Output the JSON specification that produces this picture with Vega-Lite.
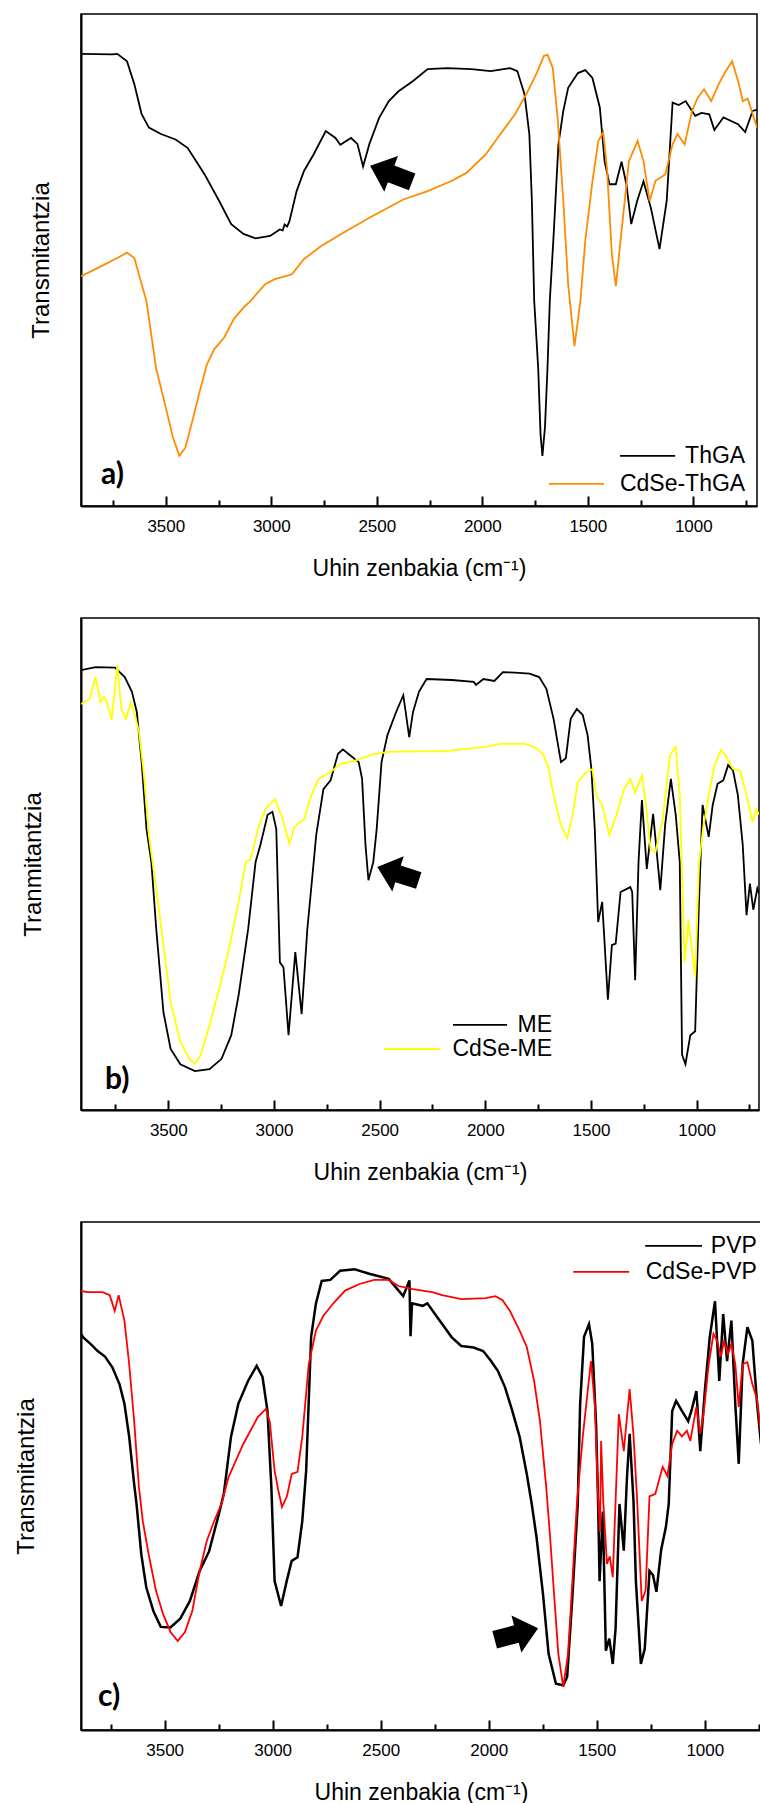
{
"$schema": "https://vega.github.io/schema/vega-lite/v6.json",
"background": "white",
"padding": {"top": 13, "left": 13, "right": 0, "bottom": 0},
"columns": 1,
"align": "each",
"spacing": 36,
"resolve": {"scale": {"color": "independent"}},
"config": {
  "font": "Liberation Sans",
  "view": {"stroke": "#000", "strokeWidth": 1.5},
  "axis": {"grid": false, "domainColor": "#000", "domainWidth": 2, "tickColor": "#000", "tickWidth": 2, "labelColor": "#000", "titleColor": "#000", "titleFontWeight": "normal", "labelFont": "Liberation Sans", "titleFont": "Liberation Sans"}
},
"datasets": {
"a": [
{"series":"ThGA","wn":3902,"t":91.9},{"series":"ThGA","wn":3753,"t":91.8},{"series":"ThGA","wn":3730,"t":91.9},{"series":"ThGA","wn":3684,"t":90.4},{"series":"ThGA","wn":3649,"t":85.7},{"series":"ThGA","wn":3615,"t":79.7},{"series":"ThGA","wn":3580,"t":76.9},{"series":"ThGA","wn":3523,"t":75.6},{"series":"ThGA","wn":3454,"t":74.5},{"series":"ThGA","wn":3397,"t":72.8},{"series":"ThGA","wn":3316,"t":67.4},{"series":"ThGA","wn":3247,"t":62.0},{"series":"ThGA","wn":3190,"t":57.3},{"series":"ThGA","wn":3132,"t":55.3},{"series":"ThGA","wn":3075,"t":54.4},{"series":"ThGA","wn":3006,"t":54.9},{"series":"ThGA","wn":2960,"t":56.2},{"series":"ThGA","wn":2946,"t":56.0},{"series":"ThGA","wn":2937,"t":57.2},{"series":"ThGA","wn":2925,"t":56.8},{"series":"ThGA","wn":2914,"t":57.9},{"series":"ThGA","wn":2880,"t":64.0},{"series":"ThGA","wn":2845,"t":68.1},{"series":"ThGA","wn":2799,"t":71.5},{"series":"ThGA","wn":2742,"t":76.2},{"series":"ThGA","wn":2696,"t":74.8},{"series":"ThGA","wn":2673,"t":73.4},{"series":"ThGA","wn":2622,"t":74.8},{"series":"ThGA","wn":2592,"t":73.6},{"series":"ThGA","wn":2565,"t":69.0},{"series":"ThGA","wn":2535,"t":73.6},{"series":"ThGA","wn":2489,"t":78.9},{"series":"ThGA","wn":2443,"t":82.3},{"series":"ThGA","wn":2397,"t":84.3},{"series":"ThGA","wn":2328,"t":86.4},{"series":"ThGA","wn":2259,"t":88.8},{"series":"ThGA","wn":2167,"t":89.0},{"series":"ThGA","wn":2052,"t":88.8},{"series":"ThGA","wn":1960,"t":88.4},{"series":"ThGA","wn":1868,"t":89.0},{"series":"ThGA","wn":1834,"t":88.4},{"series":"ThGA","wn":1800,"t":83.7},{"series":"ThGA","wn":1777,"t":75.6},{"series":"ThGA","wn":1765,"t":62},{"series":"ThGA","wn":1754,"t":41.7},{"series":"ThGA","wn":1735,"t":28},{"series":"ThGA","wn":1724,"t":14.6},{"series":"ThGA","wn":1715,"t":10.2},{"series":"ThGA","wn":1703,"t":16},{"series":"ThGA","wn":1691,"t":28},{"series":"ThGA","wn":1680,"t":41.7},{"series":"ThGA","wn":1662,"t":55},{"series":"ThGA","wn":1639,"t":73.6},{"series":"ThGA","wn":1616,"t":80.3},{"series":"ThGA","wn":1593,"t":85},{"series":"ThGA","wn":1547,"t":88},{"series":"ThGA","wn":1512,"t":88.6},{"series":"ThGA","wn":1478,"t":87},{"series":"ThGA","wn":1443,"t":81},{"series":"ThGA","wn":1420,"t":70},{"series":"ThGA","wn":1397,"t":65.4},{"series":"ThGA","wn":1367,"t":65.4},{"series":"ThGA","wn":1340,"t":70},{"series":"ThGA","wn":1317,"t":65.4},{"series":"ThGA","wn":1294,"t":57.3},{"series":"ThGA","wn":1266,"t":62},{"series":"ThGA","wn":1236,"t":66},{"series":"ThGA","wn":1201,"t":60.6},{"series":"ThGA","wn":1160,"t":52.2},{"series":"ThGA","wn":1126,"t":62},{"series":"ThGA","wn":1098,"t":82},{"series":"ThGA","wn":1069,"t":81.5},{"series":"ThGA","wn":1036,"t":82.3},{"series":"ThGA","wn":1018,"t":81.1},{"series":"ThGA","wn":991,"t":79.3},{"series":"ThGA","wn":961,"t":79.9},{"series":"ThGA","wn":924,"t":79.6},{"series":"ThGA","wn":900,"t":76.4},{"series":"ThGA","wn":857,"t":79},{"series":"ThGA","wn":823,"t":78.3},{"series":"ThGA","wn":788,"t":77.6},{"series":"ThGA","wn":754,"t":76},{"series":"ThGA","wn":719,"t":80.3},{"series":"ThGA","wn":698,"t":80.5},
{"series":"CdSe-ThGA","wn":3902,"t":46.7},{"series":"CdSe-ThGA","wn":3822,"t":48.4},{"series":"CdSe-ThGA","wn":3730,"t":50.4},{"series":"CdSe-ThGA","wn":3684,"t":51.5},{"series":"CdSe-ThGA","wn":3649,"t":50.4},{"series":"CdSe-ThGA","wn":3615,"t":45.1},{"series":"CdSe-ThGA","wn":3592,"t":41.7},{"series":"CdSe-ThGA","wn":3546,"t":28},{"series":"CdSe-ThGA","wn":3500,"t":20},{"series":"CdSe-ThGA","wn":3466,"t":13.9},{"series":"CdSe-ThGA","wn":3436,"t":10.2},{"series":"CdSe-ThGA","wn":3408,"t":11.8},{"series":"CdSe-ThGA","wn":3374,"t":17.3},{"series":"CdSe-ThGA","wn":3339,"t":23.4},{"series":"CdSe-ThGA","wn":3305,"t":28.8},{"series":"CdSe-ThGA","wn":3270,"t":31.9},{"series":"CdSe-ThGA","wn":3224,"t":34.2},{"series":"CdSe-ThGA","wn":3178,"t":38},{"series":"CdSe-ThGA","wn":3132,"t":40.3},{"series":"CdSe-ThGA","wn":3098,"t":41.7},{"series":"CdSe-ThGA","wn":3086,"t":42.3},{"series":"CdSe-ThGA","wn":3029,"t":45.1},{"series":"CdSe-ThGA","wn":2983,"t":46.1},{"series":"CdSe-ThGA","wn":2902,"t":47.1},{"series":"CdSe-ThGA","wn":2845,"t":50.2},{"series":"CdSe-ThGA","wn":2765,"t":52.8},{"series":"CdSe-ThGA","wn":2673,"t":55.2},{"series":"CdSe-ThGA","wn":2535,"t":58.6},{"series":"CdSe-ThGA","wn":2374,"t":62.3},{"series":"CdSe-ThGA","wn":2259,"t":64},{"series":"CdSe-ThGA","wn":2144,"t":66.1},{"series":"CdSe-ThGA","wn":2075,"t":67.7},{"series":"CdSe-ThGA","wn":1983,"t":71.5},{"series":"CdSe-ThGA","wn":1914,"t":75.6},{"series":"CdSe-ThGA","wn":1845,"t":79.6},{"series":"CdSe-ThGA","wn":1788,"t":84},{"series":"CdSe-ThGA","wn":1742,"t":88},{"series":"CdSe-ThGA","wn":1708,"t":91.5},{"series":"CdSe-ThGA","wn":1690,"t":91.7},{"series":"CdSe-ThGA","wn":1666,"t":89},{"series":"CdSe-ThGA","wn":1643,"t":78.9},{"series":"CdSe-ThGA","wn":1616,"t":62},{"series":"CdSe-ThGA","wn":1593,"t":45},{"series":"CdSe-ThGA","wn":1563,"t":32.5},{"series":"CdSe-ThGA","wn":1535,"t":41.7},{"series":"CdSe-ThGA","wn":1512,"t":53.9},{"series":"CdSe-ThGA","wn":1478,"t":66},{"series":"CdSe-ThGA","wn":1450,"t":74.2},{"series":"CdSe-ThGA","wn":1427,"t":76},{"series":"CdSe-ThGA","wn":1409,"t":68.7},{"series":"CdSe-ThGA","wn":1386,"t":51.2},{"series":"CdSe-ThGA","wn":1367,"t":44.7},{"series":"CdSe-ThGA","wn":1345,"t":53.9},{"series":"CdSe-ThGA","wn":1305,"t":70.1},{"series":"CdSe-ThGA","wn":1264,"t":74.2},{"series":"CdSe-ThGA","wn":1236,"t":70.1},{"series":"CdSe-ThGA","wn":1207,"t":62},{"series":"CdSe-ThGA","wn":1179,"t":66.1},{"series":"CdSe-ThGA","wn":1133,"t":67.4},{"series":"CdSe-ThGA","wn":1098,"t":73.5},{"series":"CdSe-ThGA","wn":1075,"t":75.6},{"series":"CdSe-ThGA","wn":1041,"t":73.5},{"series":"CdSe-ThGA","wn":1006,"t":80.3},{"series":"CdSe-ThGA","wn":979,"t":83},{"series":"CdSe-ThGA","wn":949,"t":84.7},{"series":"CdSe-ThGA","wn":915,"t":82.3},{"series":"CdSe-ThGA","wn":880,"t":85.7},{"series":"CdSe-ThGA","wn":846,"t":88.4},{"series":"CdSe-ThGA","wn":816,"t":90.4},{"series":"CdSe-ThGA","wn":788,"t":86.4},{"series":"CdSe-ThGA","wn":765,"t":82.3},{"series":"CdSe-ThGA","wn":742,"t":82.8},{"series":"CdSe-ThGA","wn":698,"t":76.9}
],
"b": [
{"series":"ME","wn":3913,"t":89.4},{"series":"ME","wn":3844,"t":90},{"series":"ME","wn":3752,"t":89.9},{"series":"ME","wn":3706,"t":88},{"series":"ME","wn":3672,"t":85},{"series":"ME","wn":3649,"t":80.9},{"series":"ME","wn":3626,"t":70.7},{"series":"ME","wn":3603,"t":57.1},{"series":"ME","wn":3580,"t":50.4},{"series":"ME","wn":3557,"t":36.8},{"series":"ME","wn":3523,"t":19.9},{"series":"ME","wn":3489,"t":12.4},{"series":"ME","wn":3443,"t":9.3},{"series":"ME","wn":3374,"t":7.9},{"series":"ME","wn":3305,"t":8.3},{"series":"ME","wn":3248,"t":10.4},{"series":"ME","wn":3202,"t":15.2},{"series":"ME","wn":3167,"t":23.4},{"series":"ME","wn":3122,"t":36.8},{"series":"ME","wn":3087,"t":50.4},{"series":"ME","wn":3064,"t":53.9},{"series":"ME","wn":3030,"t":60},{"series":"ME","wn":3007,"t":60.6},{"series":"ME","wn":2989,"t":57.1},{"series":"ME","wn":2972,"t":30},{"series":"ME","wn":2955,"t":29},{"series":"ME","wn":2931,"t":15.2},{"series":"ME","wn":2899,"t":32.1},{"series":"ME","wn":2869,"t":19.5},{"series":"ME","wn":2842,"t":36.8},{"series":"ME","wn":2812,"t":50.4},{"series":"ME","wn":2800,"t":55.9},{"series":"ME","wn":2766,"t":65.2},{"series":"ME","wn":2732,"t":67},{"series":"ME","wn":2697,"t":72.4},{"series":"ME","wn":2674,"t":73.3},{"series":"ME","wn":2640,"t":72.1},{"series":"ME","wn":2599,"t":70.7},{"series":"ME","wn":2583,"t":67.3},{"series":"ME","wn":2567,"t":53.9},{"series":"ME","wn":2553,"t":46.7},{"series":"ME","wn":2530,"t":50.4},{"series":"ME","wn":2514,"t":57.1},{"series":"ME","wn":2491,"t":70.7},{"series":"ME","wn":2463,"t":76.2},{"series":"ME","wn":2422,"t":80.9},{"series":"ME","wn":2388,"t":84.3},{"series":"ME","wn":2360,"t":75.8},{"series":"ME","wn":2342,"t":80.9},{"series":"ME","wn":2314,"t":85},{"series":"ME","wn":2278,"t":87.6},{"series":"ME","wn":2158,"t":87.4},{"series":"ME","wn":2055,"t":87},{"series":"ME","wn":2044,"t":86.4},{"series":"ME","wn":2009,"t":87.6},{"series":"ME","wn":1957,"t":87.2},{"series":"ME","wn":1917,"t":89},{"series":"ME","wn":1860,"t":88.9},{"series":"ME","wn":1791,"t":88.7},{"series":"ME","wn":1745,"t":88},{"series":"ME","wn":1711,"t":85.6},{"series":"ME","wn":1677,"t":79.5},{"series":"ME","wn":1642,"t":70.7},{"series":"ME","wn":1619,"t":71.5},{"series":"ME","wn":1596,"t":79.5},{"series":"ME","wn":1567,"t":81.5},{"series":"ME","wn":1539,"t":80.3},{"series":"ME","wn":1516,"t":76.2},{"series":"ME","wn":1498,"t":69.3},{"series":"ME","wn":1482,"t":57.1},{"series":"ME","wn":1466,"t":38.2},{"series":"ME","wn":1447,"t":42.3},{"series":"ME","wn":1420,"t":22.4},{"series":"ME","wn":1401,"t":33.5},{"series":"ME","wn":1383,"t":33.8},{"series":"ME","wn":1360,"t":44.3},{"series":"ME","wn":1314,"t":45.3},{"series":"ME","wn":1305,"t":44.3},{"series":"ME","wn":1291,"t":26.4},{"series":"ME","wn":1275,"t":50.4},{"series":"ME","wn":1259,"t":63},{"series":"ME","wn":1236,"t":49},{"series":"ME","wn":1206,"t":60.2},{"series":"ME","wn":1172,"t":44.7},{"series":"ME","wn":1149,"t":58},{"series":"ME","wn":1122,"t":67.3},{"series":"ME","wn":1099,"t":60},{"series":"ME","wn":1080,"t":50.4},{"series":"ME","wn":1069,"t":11.2},{"series":"ME","wn":1053,"t":9.3},{"series":"ME","wn":1030,"t":15.2},{"series":"ME","wn":1007,"t":16},{"series":"ME","wn":989,"t":42.3},{"series":"ME","wn":972,"t":62},{"series":"ME","wn":943,"t":55.5},{"series":"ME","wn":924,"t":62},{"series":"ME","wn":901,"t":66.3},{"series":"ME","wn":874,"t":67},{"series":"ME","wn":851,"t":70.1},{"series":"ME","wn":828,"t":69},{"series":"ME","wn":805,"t":64},{"series":"ME","wn":782,"t":53.9},{"series":"ME","wn":764,"t":39.6},{"series":"ME","wn":748,"t":46},{"series":"ME","wn":732,"t":40.7},{"series":"ME","wn":713,"t":45},{"series":"ME","wn":705,"t":44},
{"series":"CdSe-ME","wn":3913,"t":82.5},{"series":"CdSe-ME","wn":3874,"t":83.5},{"series":"CdSe-ME","wn":3844,"t":88},{"series":"CdSe-ME","wn":3821,"t":82.9},{"series":"CdSe-ME","wn":3805,"t":84},{"series":"CdSe-ME","wn":3791,"t":82.9},{"series":"CdSe-ME","wn":3768,"t":79.3},{"series":"CdSe-ME","wn":3741,"t":90.4},{"series":"CdSe-ME","wn":3722,"t":81.5},{"series":"CdSe-ME","wn":3700,"t":79.5},{"series":"CdSe-ME","wn":3677,"t":82.9},{"series":"CdSe-ME","wn":3654,"t":79.5},{"series":"CdSe-ME","wn":3638,"t":76.8},{"series":"CdSe-ME","wn":3615,"t":68},{"series":"CdSe-ME","wn":3592,"t":55.9},{"series":"CdSe-ME","wn":3557,"t":45},{"series":"CdSe-ME","wn":3523,"t":33.5},{"series":"CdSe-ME","wn":3489,"t":22},{"series":"CdSe-ME","wn":3443,"t":13.8},{"series":"CdSe-ME","wn":3397,"t":10.2},{"series":"CdSe-ME","wn":3374,"t":9.4},{"series":"CdSe-ME","wn":3346,"t":11.2},{"series":"CdSe-ME","wn":3305,"t":17.3},{"series":"CdSe-ME","wn":3259,"t":24.6},{"series":"CdSe-ME","wn":3213,"t":32.7},{"series":"CdSe-ME","wn":3167,"t":42.3},{"series":"CdSe-ME","wn":3133,"t":50.4},{"series":"CdSe-ME","wn":3110,"t":51},{"series":"CdSe-ME","wn":3076,"t":57.1},{"series":"CdSe-ME","wn":3041,"t":61.2},{"series":"CdSe-ME","wn":2995,"t":63.2},{"series":"CdSe-ME","wn":2961,"t":59.5},{"series":"CdSe-ME","wn":2927,"t":54.1},{"series":"CdSe-ME","wn":2904,"t":57.5},{"series":"CdSe-ME","wn":2881,"t":58.5},{"series":"CdSe-ME","wn":2858,"t":59},{"series":"CdSe-ME","wn":2823,"t":64},{"series":"CdSe-ME","wn":2789,"t":67.3},{"series":"CdSe-ME","wn":2732,"t":68.7},{"series":"CdSe-ME","wn":2686,"t":70.3},{"series":"CdSe-ME","wn":2617,"t":71},{"series":"CdSe-ME","wn":2525,"t":72.4},{"series":"CdSe-ME","wn":2456,"t":72.8},{"series":"CdSe-ME","wn":2342,"t":72.9},{"series":"CdSe-ME","wn":2204,"t":72.9},{"series":"CdSe-ME","wn":2089,"t":73.4},{"series":"CdSe-ME","wn":1998,"t":73.8},{"series":"CdSe-ME","wn":1929,"t":74.4},{"series":"CdSe-ME","wn":1814,"t":74.4},{"series":"CdSe-ME","wn":1768,"t":73.8},{"series":"CdSe-ME","wn":1727,"t":72.4},{"series":"CdSe-ME","wn":1700,"t":69.3},{"series":"CdSe-ME","wn":1677,"t":64},{"series":"CdSe-ME","wn":1642,"t":57.9},{"series":"CdSe-ME","wn":1612,"t":55.3},{"series":"CdSe-ME","wn":1589,"t":59.5},{"series":"CdSe-ME","wn":1562,"t":66.7},{"series":"CdSe-ME","wn":1527,"t":68.5},{"series":"CdSe-ME","wn":1493,"t":69.3},{"series":"CdSe-ME","wn":1475,"t":64},{"series":"CdSe-ME","wn":1447,"t":62},{"series":"CdSe-ME","wn":1413,"t":55.9},{"series":"CdSe-ME","wn":1379,"t":60},{"series":"CdSe-ME","wn":1344,"t":65.2},{"series":"CdSe-ME","wn":1314,"t":67.3},{"series":"CdSe-ME","wn":1291,"t":64.5},{"series":"CdSe-ME","wn":1259,"t":68},{"series":"CdSe-ME","wn":1241,"t":62.5},{"series":"CdSe-ME","wn":1218,"t":53},{"series":"CdSe-ME","wn":1195,"t":52.4},{"series":"CdSe-ME","wn":1161,"t":59},{"series":"CdSe-ME","wn":1126,"t":72.1},{"series":"CdSe-ME","wn":1099,"t":73.8},{"series":"CdSe-ME","wn":1080,"t":64},{"series":"CdSe-ME","wn":1057,"t":30},{"series":"CdSe-ME","wn":1039,"t":38.6},{"series":"CdSe-ME","wn":1007,"t":27},{"series":"CdSe-ME","wn":989,"t":50},{"series":"CdSe-ME","wn":970,"t":57.1},{"series":"CdSe-ME","wn":943,"t":64},{"series":"CdSe-ME","wn":915,"t":70.1},{"series":"CdSe-ME","wn":885,"t":73.2},{"series":"CdSe-ME","wn":862,"t":72},{"series":"CdSe-ME","wn":828,"t":69.3},{"series":"CdSe-ME","wn":794,"t":68.9},{"series":"CdSe-ME","wn":764,"t":64},{"series":"CdSe-ME","wn":736,"t":58.5},{"series":"CdSe-ME","wn":718,"t":61.2},{"series":"CdSe-ME","wn":705,"t":60}
],
"c": [
{"series":"PVP","wn":3900,"t":78.6},{"series":"PVP","wn":3877,"t":77.3},{"series":"PVP","wn":3843,"t":76},{"series":"PVP","wn":3810,"t":74.6},{"series":"PVP","wn":3776,"t":73.5},{"series":"PVP","wn":3742,"t":71.4},{"series":"PVP","wn":3709,"t":68.1},{"series":"PVP","wn":3686,"t":64.2},{"series":"PVP","wn":3664,"t":57.7},{"series":"PVP","wn":3641,"t":48.4},{"series":"PVP","wn":3630,"t":44.5},{"series":"PVP","wn":3608,"t":34.6},{"series":"PVP","wn":3585,"t":28.1},{"series":"PVP","wn":3552,"t":23.4},{"series":"PVP","wn":3518,"t":20.3},{"series":"PVP","wn":3473,"t":20.2},{"series":"PVP","wn":3428,"t":21.9},{"series":"PVP","wn":3383,"t":25.4},{"series":"PVP","wn":3338,"t":31.3},{"series":"PVP","wn":3294,"t":35.2},{"series":"PVP","wn":3249,"t":42.5},{"series":"PVP","wn":3226,"t":46.5},{"series":"PVP","wn":3193,"t":57.7},{"series":"PVP","wn":3159,"t":64.2},{"series":"PVP","wn":3114,"t":68.7},{"series":"PVP","wn":3074,"t":71.7},{"series":"PVP","wn":3047,"t":69.5},{"series":"PVP","wn":3024,"t":62.8},{"series":"PVP","wn":3006,"t":47.8},{"series":"PVP","wn":2991,"t":29.3},{"series":"PVP","wn":2961,"t":24.4},{"series":"PVP","wn":2934,"t":29.5},{"series":"PVP","wn":2912,"t":33.3},{"series":"PVP","wn":2885,"t":34},{"series":"PVP","wn":2863,"t":41.1},{"series":"PVP","wn":2845,"t":51},{"series":"PVP","wn":2822,"t":77.4},{"series":"PVP","wn":2800,"t":83.9},{"series":"PVP","wn":2773,"t":88.4},{"series":"PVP","wn":2733,"t":88.6},{"series":"PVP","wn":2688,"t":90.4},{"series":"PVP","wn":2620,"t":90.7},{"series":"PVP","wn":2553,"t":89.8},{"series":"PVP","wn":2463,"t":88.8},{"series":"PVP","wn":2396,"t":85.4},{"series":"PVP","wn":2367,"t":88.5},{"series":"PVP","wn":2362,"t":77.5},{"series":"PVP","wn":2355,"t":84},{"series":"PVP","wn":2306,"t":83.5},{"series":"PVP","wn":2284,"t":84},{"series":"PVP","wn":2239,"t":81.3},{"series":"PVP","wn":2171,"t":77.3},{"series":"PVP","wn":2127,"t":75.6},{"series":"PVP","wn":2070,"t":75.3},{"series":"PVP","wn":2026,"t":74.6},{"series":"PVP","wn":1992,"t":72.8},{"series":"PVP","wn":1958,"t":70.7},{"series":"PVP","wn":1925,"t":67.5},{"series":"PVP","wn":1891,"t":62.8},{"series":"PVP","wn":1857,"t":57.7},{"series":"PVP","wn":1824,"t":50.4},{"series":"PVP","wn":1801,"t":44.5},{"series":"PVP","wn":1779,"t":38},{"series":"PVP","wn":1749,"t":26.8},{"series":"PVP","wn":1723,"t":15},{"series":"PVP","wn":1689,"t":9.1},{"series":"PVP","wn":1655,"t":8.8},{"series":"PVP","wn":1637,"t":10.5},{"series":"PVP","wn":1615,"t":24.8},{"series":"PVP","wn":1588,"t":44.5},{"series":"PVP","wn":1577,"t":64.2},{"series":"PVP","wn":1559,"t":77.4},{"series":"PVP","wn":1536,"t":79.9},{"series":"PVP","wn":1521,"t":76},{"series":"PVP","wn":1503,"t":60},{"series":"PVP","wn":1494,"t":45},{"series":"PVP","wn":1487,"t":29.3},{"series":"PVP","wn":1472,"t":43},{"series":"PVP","wn":1458,"t":15.6},{"series":"PVP","wn":1442,"t":18},{"series":"PVP","wn":1426,"t":13},{"series":"PVP","wn":1413,"t":20},{"series":"PVP","wn":1395,"t":44.5},{"series":"PVP","wn":1385,"t":40},{"series":"PVP","wn":1375,"t":35.3},{"series":"PVP","wn":1360,"t":50},{"series":"PVP","wn":1348,"t":58.3},{"series":"PVP","wn":1330,"t":45},{"series":"PVP","wn":1319,"t":29.3},{"series":"PVP","wn":1296,"t":13},{"series":"PVP","wn":1278,"t":16},{"series":"PVP","wn":1256,"t":31.3},{"series":"PVP","wn":1240,"t":30.5},{"series":"PVP","wn":1224,"t":27.2},{"series":"PVP","wn":1202,"t":35.5},{"series":"PVP","wn":1180,"t":40},{"series":"PVP","wn":1167,"t":44.5},{"series":"PVP","wn":1151,"t":62.8},{"series":"PVP","wn":1133,"t":64.8},{"series":"PVP","wn":1106,"t":62.8},{"series":"PVP","wn":1077,"t":60.8},{"series":"PVP","wn":1061,"t":63},{"series":"PVP","wn":1039,"t":66.7},{"series":"PVP","wn":1021,"t":54.9},{"series":"PVP","wn":1000,"t":66.7},{"series":"PVP","wn":977,"t":77.4},{"series":"PVP","wn":953,"t":84.4},{"series":"PVP","wn":933,"t":68.7},{"series":"PVP","wn":915,"t":81.9},{"series":"PVP","wn":897,"t":72.6},{"series":"PVP","wn":877,"t":80.6},{"series":"PVP","wn":859,"t":64.2},{"series":"PVP","wn":843,"t":52.4},{"series":"PVP","wn":825,"t":72},{"series":"PVP","wn":803,"t":79.3},{"series":"PVP","wn":780,"t":76.6},{"series":"PVP","wn":758,"t":64.2},{"series":"PVP","wn":740,"t":56.3},
{"series":"CdSe-PVP","wn":3900,"t":86.5},{"series":"CdSe-PVP","wn":3855,"t":86.2},{"series":"CdSe-PVP","wn":3787,"t":86.2},{"series":"CdSe-PVP","wn":3754,"t":85.6},{"series":"CdSe-PVP","wn":3731,"t":82.5},{"series":"CdSe-PVP","wn":3713,"t":85.6},{"series":"CdSe-PVP","wn":3686,"t":80.6},{"series":"CdSe-PVP","wn":3664,"t":72},{"series":"CdSe-PVP","wn":3641,"t":60.8},{"series":"CdSe-PVP","wn":3619,"t":47.8},{"series":"CdSe-PVP","wn":3601,"t":41.1},{"series":"CdSe-PVP","wn":3574,"t":34.6},{"series":"CdSe-PVP","wn":3540,"t":27.4},{"series":"CdSe-PVP","wn":3507,"t":22.8},{"series":"CdSe-PVP","wn":3473,"t":19.3},{"series":"CdSe-PVP","wn":3439,"t":17.5},{"series":"CdSe-PVP","wn":3406,"t":19.3},{"series":"CdSe-PVP","wn":3372,"t":23.4},{"series":"CdSe-PVP","wn":3338,"t":31.3},{"series":"CdSe-PVP","wn":3305,"t":37.2},{"series":"CdSe-PVP","wn":3271,"t":41.1},{"series":"CdSe-PVP","wn":3237,"t":44.5},{"series":"CdSe-PVP","wn":3204,"t":49.8},{"series":"CdSe-PVP","wn":3136,"t":56.3},{"series":"CdSe-PVP","wn":3069,"t":61.6},{"series":"CdSe-PVP","wn":3031,"t":63.2},{"series":"CdSe-PVP","wn":3013,"t":60.6},{"series":"CdSe-PVP","wn":2991,"t":51},{"series":"CdSe-PVP","wn":2973,"t":47},{"series":"CdSe-PVP","wn":2957,"t":43.9},{"series":"CdSe-PVP","wn":2934,"t":46},{"series":"CdSe-PVP","wn":2912,"t":50.4},{"series":"CdSe-PVP","wn":2885,"t":50.8},{"series":"CdSe-PVP","wn":2863,"t":57.7},{"series":"CdSe-PVP","wn":2833,"t":72},{"series":"CdSe-PVP","wn":2800,"t":78.6},{"series":"CdSe-PVP","wn":2766,"t":81.5},{"series":"CdSe-PVP","wn":2721,"t":83.9},{"series":"CdSe-PVP","wn":2665,"t":86.5},{"series":"CdSe-PVP","wn":2598,"t":87.8},{"series":"CdSe-PVP","wn":2530,"t":88.6},{"series":"CdSe-PVP","wn":2463,"t":88.6},{"series":"CdSe-PVP","wn":2418,"t":87.4},{"series":"CdSe-PVP","wn":2351,"t":86.8},{"series":"CdSe-PVP","wn":2261,"t":86.2},{"series":"CdSe-PVP","wn":2216,"t":85.6},{"series":"CdSe-PVP","wn":2127,"t":84.8},{"series":"CdSe-PVP","wn":2014,"t":85},{"series":"CdSe-PVP","wn":1969,"t":85.4},{"series":"CdSe-PVP","wn":1936,"t":84.6},{"series":"CdSe-PVP","wn":1902,"t":82.5},{"series":"CdSe-PVP","wn":1857,"t":78.6},{"series":"CdSe-PVP","wn":1824,"t":75.4},{"series":"CdSe-PVP","wn":1790,"t":68.7},{"series":"CdSe-PVP","wn":1763,"t":60.8},{"series":"CdSe-PVP","wn":1734,"t":47.8},{"series":"CdSe-PVP","wn":1716,"t":38},{"series":"CdSe-PVP","wn":1700,"t":28.1},{"series":"CdSe-PVP","wn":1678,"t":15},{"series":"CdSe-PVP","wn":1655,"t":8.5},{"series":"CdSe-PVP","wn":1633,"t":15},{"series":"CdSe-PVP","wn":1610,"t":31.3},{"series":"CdSe-PVP","wn":1592,"t":44.5},{"series":"CdSe-PVP","wn":1565,"t":57.7},{"series":"CdSe-PVP","wn":1527,"t":72.6},{"series":"CdSe-PVP","wn":1509,"t":64},{"series":"CdSe-PVP","wn":1494,"t":46},{"series":"CdSe-PVP","wn":1485,"t":39},{"series":"CdSe-PVP","wn":1480,"t":56.9},{"series":"CdSe-PVP","wn":1470,"t":45},{"series":"CdSe-PVP","wn":1453,"t":32.7},{"series":"CdSe-PVP","wn":1440,"t":34.2},{"series":"CdSe-PVP","wn":1426,"t":30.1},{"series":"CdSe-PVP","wn":1398,"t":62.2},{"series":"CdSe-PVP","wn":1375,"t":54.9},{"series":"CdSe-PVP","wn":1348,"t":67.1},{"series":"CdSe-PVP","wn":1330,"t":58},{"series":"CdSe-PVP","wn":1314,"t":45.9},{"series":"CdSe-PVP","wn":1292,"t":25.4},{"series":"CdSe-PVP","wn":1274,"t":27.5},{"series":"CdSe-PVP","wn":1256,"t":46},{"series":"CdSe-PVP","wn":1229,"t":46.5},{"series":"CdSe-PVP","wn":1195,"t":51.8},{"series":"CdSe-PVP","wn":1173,"t":50},{"series":"CdSe-PVP","wn":1151,"t":56.3},{"series":"CdSe-PVP","wn":1128,"t":58.9},{"series":"CdSe-PVP","wn":1106,"t":57.8},{"series":"CdSe-PVP","wn":1083,"t":58.9},{"series":"CdSe-PVP","wn":1067,"t":56.9},{"series":"CdSe-PVP","wn":1039,"t":63.6},{"series":"CdSe-PVP","wn":1021,"t":58.3},{"series":"CdSe-PVP","wn":1005,"t":62.5},{"series":"CdSe-PVP","wn":982,"t":72},{"series":"CdSe-PVP","wn":960,"t":78},{"series":"CdSe-PVP","wn":942,"t":76.5},{"series":"CdSe-PVP","wn":926,"t":73.5},{"series":"CdSe-PVP","wn":911,"t":76.5},{"series":"CdSe-PVP","wn":893,"t":74},{"series":"CdSe-PVP","wn":877,"t":76},{"series":"CdSe-PVP","wn":859,"t":72},{"series":"CdSe-PVP","wn":843,"t":63.6},{"series":"CdSe-PVP","wn":825,"t":72},{"series":"CdSe-PVP","wn":803,"t":72.4},{"series":"CdSe-PVP","wn":780,"t":68.1},{"series":"CdSe-PVP","wn":758,"t":65},{"series":"CdSe-PVP","wn":740,"t":58.3}
]
},
"concat": [
{
  "width": 676, "height": 492,
  "layer": [
    {"data": {"name": "a"}, "mark": {"type": "line", "strokeWidth": 1.8, "clip": true},
     "encoding": {
       "x": {"field": "wn", "type": "quantitative", "scale": {"domain": [698, 3902], "reverse": true, "nice": false, "zero": false},
             "axis": {"title": "Uhin zenbakia (cm⁻¹)", "values": [3750,3500,3250,3000,2750,2500,2250,2000,1750,1500,1250,1000,750], "format": "d", "labelExpr": "datum.value % 500 === 0 ? datum.label : ''", "tickSize": {"condition": {"test": "datum.value % 500 === 0", "value": -10}, "value": -6}, "labelPadding": 22, "labelFontSize": 17, "labelOverlap": false, "labelFlush": false, "titleFontSize": 23, "titlePadding": 19}},
       "y": {"field": "t", "type": "quantitative", "scale": {"domain": [0, 100], "nice": false, "zero": false}, "axis": {"title": "Transmitantzia", "ticks": false, "labels": false, "titleFontSize": 24, "titlePadding": 28}},
       "color": {"field": "series", "type": "nominal", "scale": {"domain": ["ThGA", "CdSe-ThGA"], "range": ["#000000", "#ff8c00"]}, "legend": null}
     }},
    {"data": {"values": [{"series": "ThGA"}]}, "mark": {"type": "rule", "strokeWidth": 1.8}, "encoding": {"x": {"datum": 1347}, "x2": {"datum": 1086}, "y": {"datum": 10.2}, "color": {"field": "series", "type": "nominal", "legend": null}}},
    {"data": {"values": [{"series": "CdSe-ThGA"}]}, "mark": {"type": "rule", "strokeWidth": 1.8}, "encoding": {"x": {"datum": 1684}, "x2": {"datum": 1423}, "y": {"datum": 4.5}, "color": {"field": "series", "type": "nominal", "legend": null}}},
    {"data": {"values": [{"series": "ThGA"}]}, "mark": {"type": "text", "align": "right", "baseline": "middle", "fontSize": 23, "color": "#000"}, "encoding": {"x": {"datum": 754}, "y": {"datum": 10.2}, "text": {"field": "series"}}},
    {"data": {"values": [{"series": "CdSe-ThGA"}]}, "mark": {"type": "text", "align": "right", "baseline": "middle", "fontSize": 23, "color": "#000"}, "encoding": {"x": {"datum": 754}, "y": {"datum": 4.5}, "text": {"field": "series"}}},
    {"data": {"values": [{"note": "arrow"}]}, "mark": {"type": "point", "shape": "M1,0L0,-0.85L0,-0.4L-1,-0.4L-1,0.4L0,0.4L0,0.85Z", "filled": true, "color": "#000", "opacity": 1, "size": 2025, "angle": 201}, "encoding": {"x": {"datum": 2432}, "y": {"datum": 67.5}}},
    {"data": {"values": [{"panel": "a)"}]}, "mark": {"type": "text", "align": "left", "baseline": "alphabetic", "font": "Lato", "fontWeight": "bold", "fontSize": 30, "color": "#000"}, "encoding": {"x": {"datum": 3807}, "y": {"datum": 4.5}, "text": {"field": "panel"}}}
  ]
},
{
  "width": 678, "height": 492,
  "layer": [
    {"data": {"name": "b"}, "mark": {"type": "line", "strokeWidth": 1.8, "clip": true},
     "encoding": {
       "x": {"field": "wn", "type": "quantitative", "scale": {"domain": [705, 3913], "reverse": true, "nice": false, "zero": false},
             "axis": {"title": "Uhin zenbakia (cm⁻¹)", "values": [3750,3500,3250,3000,2750,2500,2250,2000,1750,1500,1250,1000,750], "format": "d", "labelExpr": "datum.value % 500 === 0 ? datum.label : ''", "tickSize": {"condition": {"test": "datum.value % 500 === 0", "value": -10}, "value": -6}, "labelPadding": 22, "labelFontSize": 17, "labelOverlap": false, "labelFlush": false, "titleFontSize": 23, "titlePadding": 19}},
       "y": {"field": "t", "type": "quantitative", "scale": {"domain": [0, 100], "nice": false, "zero": false}, "axis": {"title": "Tranmitantzia", "ticks": false, "labels": false, "titleFontSize": 24, "titlePadding": 36}},
       "color": {"field": "series", "type": "nominal", "scale": {"domain": ["ME", "CdSe-ME"], "range": ["#000000", "#ffff00"]}, "legend": null}
     }},
    {"data": {"values": [{"series": "ME"}]}, "mark": {"type": "rule", "strokeWidth": 1.8}, "encoding": {"x": {"datum": 2153}, "x2": {"datum": 1897}, "y": {"datum": 17.3}, "color": {"field": "series", "type": "nominal", "legend": null}}},
    {"data": {"values": [{"series": "CdSe-ME"}]}, "mark": {"type": "rule", "strokeWidth": 1.8}, "encoding": {"x": {"datum": 2479}, "x2": {"datum": 2214}, "y": {"datum": 12.4}, "color": {"field": "series", "type": "nominal", "legend": null}}},
    {"data": {"values": [{"series": "ME"}]}, "mark": {"type": "text", "align": "right", "baseline": "middle", "fontSize": 23, "color": "#000"}, "encoding": {"x": {"datum": 1684}, "y": {"datum": 17.3}, "text": {"field": "series"}}},
    {"data": {"values": [{"series": "CdSe-ME"}]}, "mark": {"type": "text", "align": "right", "baseline": "middle", "fontSize": 23, "color": "#000"}, "encoding": {"x": {"datum": 1684}, "y": {"datum": 12.4}, "text": {"field": "series"}}},
    {"data": {"values": [{"note": "arrow"}]}, "mark": {"type": "point", "shape": "M1,0L0,-0.85L0,-0.4L-1,-0.4L-1,0.4L0,0.4L0,0.85Z", "filled": true, "color": "#000", "opacity": 1, "size": 1900, "angle": 198}, "encoding": {"x": {"datum": 2413}, "y": {"datum": 48}}},
    {"data": {"values": [{"panel": "b)"}]}, "mark": {"type": "text", "align": "left", "baseline": "alphabetic", "font": "Lato", "fontWeight": "bold", "fontSize": 30, "color": "#000"}, "encoding": {"x": {"datum": 3799}, "y": {"datum": 4.3}, "text": {"field": "panel"}}}
  ]
},
{
  "width": 680, "height": 508,
  "layer": [
    {"data": {"name": "c"}, "mark": {"type": "line", "clip": true},
     "encoding": {
       "x": {"field": "wn", "type": "quantitative", "scale": {"domain": [740, 3887], "reverse": true, "nice": false, "zero": false},
             "axis": {"title": "Uhin zenbakia (cm⁻¹)", "values": [3750,3500,3250,3000,2750,2500,2250,2000,1750,1500,1250,1000,750], "format": "d", "labelExpr": "datum.value % 500 === 0 ? datum.label : ''", "tickSize": {"condition": {"test": "datum.value % 500 === 0", "value": -10}, "value": -6}, "labelPadding": 22, "labelFontSize": 17, "labelOverlap": false, "labelFlush": false, "titleFontSize": 23, "titlePadding": 19}},
       "y": {"field": "t", "type": "quantitative", "scale": {"domain": [0, 100], "nice": false, "zero": false}, "axis": {"title": "Transmitantzia", "ticks": false, "labels": false, "titleFontSize": 24, "titlePadding": 43}},
       "color": {"field": "series", "type": "nominal", "scale": {"domain": ["PVP", "CdSe-PVP"], "range": ["#000000", "#ff0000"]}, "legend": null},
       "strokeWidth": {"condition": {"test": "datum.series === 'PVP'", "value": 2.5}, "value": 1.8}
     }},
    {"data": {"values": [{"series": "PVP"}]}, "mark": {"type": "rule", "strokeWidth": 1.8}, "encoding": {"x": {"datum": 1276}, "x2": {"datum": 1013}, "y": {"datum": 95.3}, "color": {"field": "series", "type": "nominal", "legend": null}}},
    {"data": {"values": [{"series": "CdSe-PVP"}]}, "mark": {"type": "rule", "strokeWidth": 1.8}, "encoding": {"x": {"datum": 1609}, "x2": {"datum": 1350}, "y": {"datum": 90.2}, "color": {"field": "series", "type": "nominal", "legend": null}}},
    {"data": {"values": [{"series": "PVP"}]}, "mark": {"type": "text", "align": "right", "baseline": "middle", "fontSize": 23, "color": "#000"}, "encoding": {"x": {"datum": 759}, "y": {"datum": 95.3}, "text": {"field": "series"}}},
    {"data": {"values": [{"series": "CdSe-PVP"}]}, "mark": {"type": "text", "align": "right", "baseline": "middle", "fontSize": 23, "color": "#000"}, "encoding": {"x": {"datum": 759}, "y": {"datum": 90.2}, "text": {"field": "series"}}},
    {"data": {"values": [{"note": "arrow"}]}, "mark": {"type": "point", "shape": "M1,0L0,-0.85L0,-0.4L-1,-0.4L-1,0.4L0,0.4L0,0.85Z", "filled": true, "color": "#000", "opacity": 1, "size": 2025, "angle": 345}, "encoding": {"x": {"datum": 1872}, "y": {"datum": 18.9}}},
    {"data": {"values": [{"panel": "c)"}]}, "mark": {"type": "text", "align": "left", "baseline": "alphabetic", "font": "Lato", "fontWeight": "bold", "fontSize": 30, "color": "#000"}, "encoding": {"x": {"datum": 3808}, "y": {"datum": 4.7}, "text": {"field": "panel"}}}
  ]
}
]
}
